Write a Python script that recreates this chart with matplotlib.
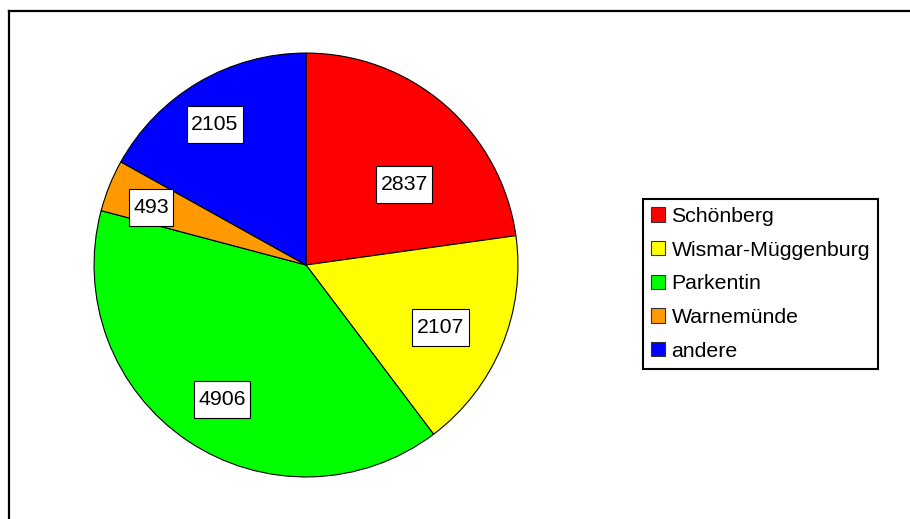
import matplotlib
matplotlib.use("Agg")
import matplotlib.pyplot as plt
from matplotlib.patches import Patch
from matplotlib.lines import Line2D
from matplotlib.path import Path
import numpy as np

plt.rcParams['font.family'] = ['Liberation Sans', 'DejaVu Sans']

categories = ["Schönberg", "Wismar-Müggenburg", "Parkentin", "Warnemünde", "andere"]
values = [2837, 2107, 4906, 493, 2105]
colors = ["#FF0000", "#FFFF00", "#00FF00", "#FF9900", "#0000FF"]
# layout: radial placement and angular nudge (deg) of the value boxes
label_radius = [0.60, 0.70, 0.75, 0.78, 0.79]
label_nudge = [-9.5, -2.5, 2.0, 1.5, 2.6]

W, H = 910, 519
fig = plt.figure(figsize=(W / 100, H / 100), dpi=100)
fig.patch.set_facecolor("white")

cx, cy, r = 306, 265, 213
ax = fig.add_axes([(cx - r) / W, (H - cy - r) / H, 2 * r / W, 2 * r / H])
wedges, _ = ax.pie(values, colors=colors, startangle=90, counterclock=False,
                   radius=1.0,
                   wedgeprops=dict(edgecolor="black", linewidth=0.8))
ax.set_xlim(-1.005, 1.005)
ax.set_ylim(-1.005, 1.005)
ax.set_aspect("equal")
ax.axis("off")


def value_box(x0, y0, width, height, mutation_size):
    px = 0.21 * mutation_size
    py = 0.42 * mutation_size
    x0, y0 = x0 - px, y0 - py
    x1, y1 = x0 + width + 2 * px, y0 + height + 2 * py
    return Path([(x0, y0), (x1, y0), (x1, y1), (x0, y1), (x0, y0)],
                closed=True)


for w, v, lr, nd in zip(wedges, values, label_radius, label_nudge):
    ang = np.deg2rad((w.theta1 + w.theta2) / 2 + nd)
    x, y = lr * np.cos(ang), lr * np.sin(ang)
    ax.text(x, y, str(v), ha="center", va="center", fontsize=15.3,
            bbox=dict(boxstyle=value_box, facecolor="white",
                      edgecolor="black", linewidth=0.8))

handles = [Patch(facecolor=c, edgecolor="#333333", linewidth=0.8) for c in colors]
leg = fig.legend(handles, categories, loc="upper left",
                 bbox_to_anchor=(643 / W, 1 - 199 / H),
                 fontsize=15.3, frameon=True, fancybox=False, shadow=False,
                 handlelength=0.66, handleheight=0.66, handletextpad=0.3,
                 labelspacing=0.69, borderpad=0.38, borderaxespad=0)
leg.get_frame().set_edgecolor("black")
leg.get_frame().set_linewidth(1.5)
leg.get_frame().set_alpha(1)

# outer chart border (left and top visible)
lx = 9 / W
ty = 1 - 11 / H
fig.add_artist(Line2D([lx, lx], [0, ty], transform=fig.transFigure,
                      color="black", linewidth=1.6))
fig.add_artist(Line2D([lx, 1], [ty, ty], transform=fig.transFigure,
                      color="black", linewidth=1.6))

fig.savefig("out.png", dpi=100)
